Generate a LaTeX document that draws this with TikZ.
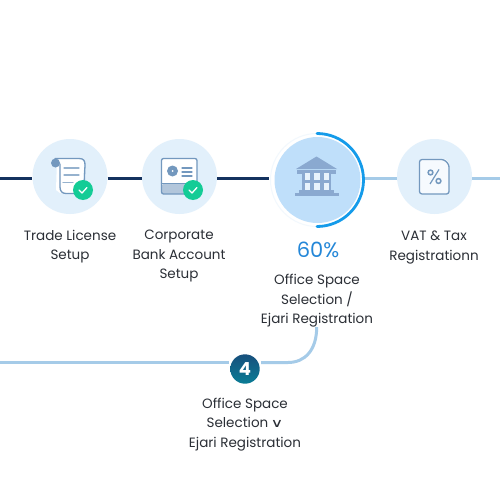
\documentclass[tikz,border=0pt]{standalone}
\usepackage{graphicx}
\usepackage{fontspec}
\setmainfont{Poppins}
\newfontfamily\symfont{DejaVu Sans}
\definecolor{navy}{HTML}{14325F}
\definecolor{lightline}{HTML}{A5CBE8}
\definecolor{disc}{HTML}{E2F0FB}
\definecolor{discb}{HTML}{BFDFFA}
\definecolor{ico}{HTML}{7398BE}
\definecolor{icob}{HTML}{8AA9D0}
\definecolor{ringc}{HTML}{149BEA}
\definecolor{okc}{HTML}{14CC96}
\definecolor{txt}{HTML}{2B2F36}
\definecolor{pct}{HTML}{2487D8}
\definecolor{badgetop}{HTML}{174F7C}
\definecolor{badgebot}{HTML}{0A7D96}
\tikzset{
  x=1pt,y=-1pt,
  stepdisc/.style={circle,fill=disc,minimum size=75pt,inner sep=0pt},
  bigdisc/.style={circle,fill=discb,minimum size=86pt,inner sep=0pt},
  okbadge/.style={circle,fill=okc,minimum size=20pt,inner sep=0pt},
  lab/.style={align=center,font=\fontsize{13.5}{19.5}\selectfont,text=txt,inner sep=0pt},
  doneline/.style={draw=navy,line width=3pt},
  todoline/.style={draw=lightline,line width=3pt},
  icoline/.style={draw=ico,line width=1.3pt,line join=round,line cap=round},
  okmark/.style={draw=white,line width=1.3pt,line cap=round,line join=round},
}
\begin{document}
\begin{tikzpicture}
\useasboundingbox (0,0) rectangle (500,500);
\fill[white] (0,0) rectangle (500,500);
\coordinate (L0) at (0,178);
\coordinate (R0) at (500,178);
\coordinate (LL) at (0,362.5);
\coordinate (turn) at (316.7,327);
\node[stepdisc] (s1) at (70,176.5) {};
\node[stepdisc] (s2) at (179.5,176.5) {};
\node[bigdisc] (s3) at (317.5,180) {};
\node[stepdisc] (s4) at (434.5,176.5) {};
\node[circle,fill=white,minimum size=30pt,inner sep=0pt] (n4) at (245,369) {};
% connectors
\draw[doneline] (L0) -- (32,178);
\draw[doneline] (107.5,178) -- (142,178);
\draw[doneline] (217,178) -- (269,178);
\draw[todoline] (364.5,178) -- (397,178);
\draw[todoline] (472,178) -- (R0);
\draw[todoline] (LL) -- (229,362.5);
\draw[todoline] (261,362.5) -- (288,362.5) .. controls (305,362.5) and (316.7,350) .. (turn);
% progress ring
\draw[draw=disc!45,line width=1pt] (317,180) circle (46.5);
\draw[ringc,line width=2.8pt,line cap=round] (317,133.5) arc[start angle=-90,end angle=90,radius=46.5];
% scroll icon
\fill[white] (57,159) -- (81,159) -- (84,162) -- (83,193) -- (60,193) -- (56,190) -- cycle;
\draw[icoline] (55,158.5) -- (79,158.5) .. controls (84,158.5) and (85,161) .. (85,165) -- (84,188);
\draw[icoline] (60,164) -- (60,187) .. controls (60,191) and (62,193.5) .. (66,193.5) -- (82,193.5);
\fill[ico] (55.5,163) circle (4.5);
\draw[icoline,draw=ico!75] (64,168) -- (79,168);
\draw[icoline,draw=ico!75] (64,175) -- (79,175);
\draw[icoline,draw=ico!75] (63,182.5) -- (73,182.5);
\node[okbadge] (b1) at (83,190) {};
\draw[okmark] (79,190) -- (82,193) -- (87,187.5);
% card icon
\fill[white,rounded corners=2pt] (161.5,158.5) rectangle (197,194);
\fill[ico!55,rounded corners=1pt] (162,184) rectangle (197,194);
\draw[icoline,rounded corners=2pt] (161.5,158.5) rectangle (197,194);
\draw[icoline] (161.5,183.5) -- (197,183.5);
\fill[ico] (172.5,171) circle (5.5);
\fill[white] (172.5,171) circle (1);
\draw[icoline] (182,168) -- (192,168);
\draw[icoline] (182,172) -- (192,172);
\draw[icoline] (182,176) -- (192,176);
\node[okbadge] (b2) at (193,190) {};
\draw[okmark] (189,190) -- (192,193) -- (197,187.5);
% bank icon
\fill[icob] (296,169) -- (316.5,156.5) -- (337,169) -- cycle;
\fill[icob] (297,170) rectangle (336,174);
\fill[icob] (302,174) rectangle (331,191);
\fill[disc!80!white] (305,173) rectangle (310,180);
\fill[disc!80!white] (314,173) rectangle (319.5,180);
\fill[disc!80!white] (323.5,173) rectangle (328.5,180);
\fill[disc!80!white] (305,182.5) rectangle (310,190);
\fill[disc!80!white] (314,182.5) rectangle (319.5,190);
\fill[disc!80!white] (323.5,182.5) rectangle (328.5,190);
\fill[icob] (299,190) rectangle (334,193);
\fill[icob] (294.5,193) rectangle (339,195.5);
% tax icon
\fill[white!70!disc] (420,159) -- (445,159) -- (449,163) -- (449,194) -- (420,194) -- cycle;
\draw[icoline,rounded corners=2.5pt] (419.5,159.5) -- (444,159.5) -- (449,164.5) -- (449,194) -- (419.5,194) -- cycle;
\draw[draw=ico,line width=1.5pt] (430.5,172.5) circle (2.4);
\draw[draw=ico,line width=1.5pt] (438.5,181) circle (2.4);
\draw[draw=ico,line width=1.2pt] (439,169.5) -- (430,184);
% number badge
\shade[top color=badgetop,bottom color=badgebot] (245,369) circle (14.7);
\node[font=\fontsize{18}{18}\selectfont\bfseries,text=white,inner sep=0pt] at (245,369.5) {4};
% labels
\node[lab] (t1) at (70,246.5) {Trade License\\Setup};
\node[lab] (t2) at (179,256) {Corporate\\Bank Account\\Setup};
\node[font=\fontsize{21}{21}\selectfont,text=pct,inner sep=0pt] (p) at (318,250) {60\%};
\node[lab] (t3) at (317,301) {Office Space\\Selection /\\Ejari Registration};
\node[lab] (t4) at (434,247.5) {VAT \& Tax\\Registrationn};
\node[lab] (t5) at (245,424.5) {Office Space\\Selection\,\scalebox{1.3}[0.9]{\symfont ∨}\\Ejari Registration};
\end{tikzpicture}
\end{document}
